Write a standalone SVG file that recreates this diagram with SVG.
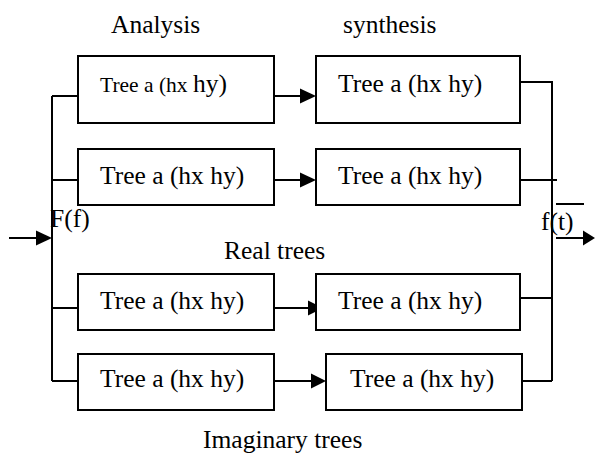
<svg xmlns="http://www.w3.org/2000/svg" width="595" height="458" viewBox="0 0 595 458">
<style>
.box{fill:#fff;stroke:#000;stroke-width:2}
.ln{fill:none;stroke:#000;stroke-width:2}
.t{font-size:25.5px;fill:#000}
.s{font-size:21.5px}
.ah{fill:#000;stroke:none}
</style>
<rect width="595" height="458" fill="#fff"/>
<g font-family="'Liberation Serif', 'DejaVu Serif', serif">
<text class="t" x="111" y="33">Analysis</text>
<text class="t" x="343" y="33">synthesis</text>
<text class="t" x="224" y="259">Real trees</text>
<text class="t" x="203" y="448">Imaginary trees</text>
<g id="connectors">
  <path class="ln" d="M52,96 V381 M52,96 H78 M52,180 H78 M52,308 H78 M52,381 H78"/>
  <path class="ln" d="M9,238 H38"/>
  <polygon class="ah" points="36,230.5 52,238 36,245.5"/>
  <path class="ln" d="M274,96 H302 M274,180 H302 M274,308 H310 M274,381 H313"/>
  <polygon class="ah" points="300,88.5 316,96 300,103.5"/>
  <polygon class="ah" points="300,172.5 316,180 300,187.5"/>
  <polygon class="ah" points="308,300.5 323,308 308,315.5"/>
  <polygon class="ah" points="311,373.5 326,381 311,388.5"/>
  <path class="ln" d="M520,82 H552 V381 M520,180 H557 M520,298 H552 M522,381 H552"/>
  <path class="ln" d="M556,238 H585"/>
  <polygon class="ah" points="583,230.5 595,238 583,245.5"/>
  <path class="ln" stroke-width="1.5" d="M556,204 H584"/>
</g>
<text class="t" x="50" y="227">F(f)</text>
<text class="t" x="541" y="230">f(t)</text>
<g id="a1"><rect class="box" x="78" y="56" width="196" height="67"/><text class="t" x="100" y="92"><tspan class="s">Tree a (hx </tspan>hy)</text></g>
<g id="a2"><rect class="box" x="78" y="149" width="196" height="56"/><text class="t" x="100" y="184">Tree a (hx hy)</text></g>
<g id="a3"><rect class="box" x="78" y="274" width="196" height="56"/><text class="t" x="100" y="309">Tree a (hx hy)</text></g>
<g id="a4"><rect class="box" x="78" y="354" width="196" height="56"/><text class="t" x="100" y="387">Tree a (hx hy)</text></g>
<g id="s1"><rect class="box" x="316" y="56" width="204" height="67"/><text class="t" x="338" y="92">Tree a (hx hy)</text></g>
<g id="s2"><rect class="box" x="316" y="149" width="204" height="56"/><text class="t" x="338" y="184">Tree a (hx hy)</text></g>
<g id="s3"><rect class="box" x="316" y="274" width="204" height="56"/><text class="t" x="338" y="309">Tree a (hx hy)</text></g>
<g id="s4"><rect class="box" x="326" y="354" width="196" height="56"/><text class="t" x="350" y="387">Tree a (hx hy)</text></g>
</g>
</svg>
